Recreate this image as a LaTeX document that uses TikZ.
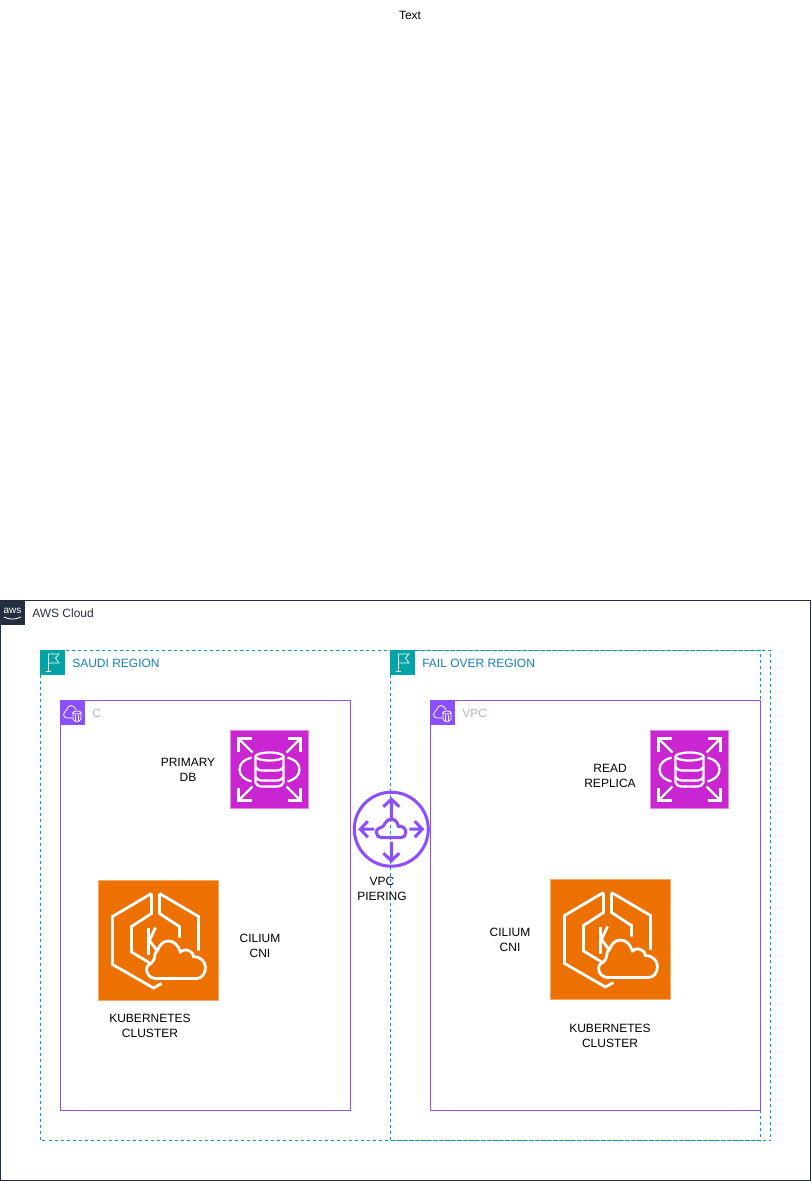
\documentclass[tikz,border=0pt]{standalone}
\usepackage{fontspec}
\setmainfont{Liberation Sans}
\definecolor{awsdark}{HTML}{232F3E}
\definecolor{regioncol}{HTML}{00A4A6}
\definecolor{regiontxt}{HTML}{147EBA}
\definecolor{vpccol}{HTML}{8C4FFF}
\definecolor{vpctxt}{HTML}{AAB7B8}
\definecolor{rdscol}{HTML}{C925D1}
\definecolor{ekscol}{HTML}{ED7100}
\tikzset{
  lbl/.style={align=center,inner sep=0pt,yshift=-0.5pt,font=\fontsize{9}{11}\selectfont},
  tagtxt/.style={anchor=west,inner sep=0pt,yshift=-0.5pt,font=\fontsize{9}{11}\selectfont},
  regionbox/.style={draw=regioncol,line width=0.75pt,dash pattern=on 2.25pt off 2.25pt},
  vpcbox/.style={draw=vpccol,line width=0.75pt},
  regiontag/.pic={
    \fill [regioncol] (0,0) rectangle (25,-25);
    \draw [white,line width=0.6pt] (8,-4) -- (8,-21.5) (5.5,-21.5) -- (11,-21.5);
    \draw [white,line width=0.6pt] (8,-4) -- (19,-4) -- (15.5,-8) -- (19,-13) -- (8,-13);
  },
  vpctag/.pic={
    \fill [vpccol] (0,0) rectangle (25,-25);
    \draw [white,line width=0.6pt]
      (12,-18) -- (7,-18)
      to [out=180,in=-90] (3.5,-14.5)
      to [out=90,in=-120] (6.5,-10)
      to [out=60,in=170] (11,-5.5)
      to [out=-10,in=100] (16,-10)
    ;
    \draw [white,line width=0.6pt] (17,-12.5) ellipse [x radius=4, y radius=1.5];
    \draw [white,line width=0.6pt] (13,-12.5) -- (13,-19) to [out=-60,in=180] (17,-21.5) to [out=0,in=-120] (21,-19) -- (21,-12.5);
    \draw [white,line width=0.5pt] (15.5,-14.5) -- (15.5,-20.5) (18.5,-14.5) -- (18.5,-20.5);
  },
  rdsicon/.pic={
    \draw [fill=rdscol,draw=rdscol!55!white,line width=0.75pt] (-39,-39) rectangle (39,39);
    \begin{scope}[white,line width=1.7pt]
      \draw (0,13) ellipse [x radius=14, y radius=4];
      \draw (-14,13) -- (-14,-13) to [out=-70,in=180] (0,-17) to [out=0,in=-110] (14,-13) -- (14,13);
      \draw (-14,3) to [out=-70,in=180] (0,-1) to [out=0,in=-110] (14,3);
      \draw (-14,-7) to [out=-70,in=180] (0,-11) to [out=0,in=-110] (14,-7);
      \draw (-18,12) to [out=195,in=90] (-30,0) to [out=-90,in=165] (-18,-12);
      \draw (18,12) to [out=-15,in=90] (30,0) to [out=-90,in=15] (18,-12);
      \foreach \sx/\sy in {1/1,-1/1,1/-1,-1/-1} {
        \draw (\sx*17,\sy*17) -- (\sx*31,\sy*31);
        \draw (\sx*18,\sy*31) -- (\sx*31,\sy*31) -- (\sx*31,\sy*18);
      }
    \end{scope}
  },
  eksicon/.pic={
    \draw [fill=ekscol,draw=ekscol!60!white,line width=0.75pt] (-60,-60) rectangle (60,60);
    \begin{scope}[white,line width=2.1pt,line join=miter]
      % left half of the hexagon
      \draw (-7,47) -- (-46,24) -- (-46,-24) -- (-5,-47.5) -- (3,-43);
      \draw (-7,47) -- (-7,27) -- (-27,14) -- (-27,-11.5) -- (-8,-23);
      % right half
      \draw (1,47) -- (40,24) -- (40,-10);
      \draw (1,47) -- (1,27) -- (21,14) -- (21,3);
      % the K
      \draw (-10,13) -- (-10,-14);
      \draw (-3,13) -- (-9,0) -- (0,-12);
      % cloud
      \draw [fill=ekscol]
        (-3,-38)
        to [out=180,in=-90] (-12,-28.5)
        to [out=90,in=-120] (-5,-20)
        to [out=60,in=-150] (-1,-10)
        to [out=70,in=180] (10,-0.5)
        to [out=0,in=110] (22,-11.5)
        to [out=40,in=150] (31,-10.5)
        to [out=-30,in=90] (35,-16)
        to [out=0,in=90] (47,-27)
        to [out=-90,in=0] (38,-38)
        -- cycle;
    \end{scope}
  },
  peericon/.pic={
    \begin{scope}[vpccol,line width=2.3pt]
      \draw (0,0) circle [radius=37];
      \draw (0,10.5) -- (0,30) (-8,22.5) -- (0,30) -- (8,22.5);
      \draw (0,-12.5) -- (0,-31.5) (-8,-24) -- (0,-31.5) -- (8,-24);
      \draw (-17,0) -- (-31,0) (-23.5,8) -- (-31,0) -- (-23.5,-8);
      \draw (18,0) -- (31,0) (23.5,8) -- (31,0) -- (23.5,-8);
      \draw
        (-10,-8.5)
        to [out=180,in=-90] (-15,-3)
        to [out=90,in=-150] (-8,3)
        to [out=60,in=180] (0,10)
        to [out=0,in=100] (7,3)
        to [out=10,in=90] (14.5,-3)
        to [out=-90,in=0] (10,-8.5)
        -- cycle;
    \end{scope}
  },
}

\begin{document}
\begin{tikzpicture}[x=0.75pt,y=0.75pt]
  \useasboundingbox (0,0) rectangle (811,-1181);
  \node [lbl] (toptext) at (410,-15) {Text};

  % cloud frame
  \draw [awsdark,line width=0.75pt] (0.5,-600.5) rectangle (810.5,-1180.5);
  \fill [awsdark] (0,-601) rectangle (25,-625);
  \node [inner sep=0pt,white,font=\fontsize{7.5}{8}\selectfont] (awslogo) at (12.5,-610.5) {aws};
  \draw [white,line width=0.6pt] (4,-617) to [out=-25,in=205] (21,-617);
  \node [tagtxt,text=awsdark] (awstitle) at (32,-613) {AWS Cloud};

  % regions
  \draw [regionbox] (40.5,-650.5) rectangle ++(730,-490);
  \draw [regionbox] (390.5,-650.5) rectangle ++(370,-490);
  \pic at (40,-650) {regiontag};
  \pic at (390,-650) {regiontag};
  \node [tagtxt,text=regiontxt] (saudititle) at (72,-663) {SAUDI REGION};
  \node [tagtxt,text=regiontxt] (failtitle) at (422,-663) {FAIL OVER REGION};

  % vpcs
  \draw [vpcbox] (60.5,-700.5) rectangle ++(290,-410);
  \draw [vpcbox] (430.5,-700.5) rectangle ++(330,-410);
  \pic at (60,-700) {vpctag};
  \pic at (430,-700) {vpctag};
  \node [tagtxt,text=vpctxt] (vpcleft) at (92,-713) {C};
  \node [tagtxt,text=vpctxt] (vpcright) at (462,-713) {VPC};

  % services
  \pic at (269.5,-769.5) {rdsicon};
  \pic at (689.5,-769.5) {rdsicon};
  \pic at (158.5,-940.5) {eksicon};
  \pic at (610.5,-939.5) {eksicon};
  \pic at (391.3,-829.2) {peericon};

  \node [lbl] (primary) at (188,-769) {PRIMARY\\DB};
  \node [lbl] (replica) at (610,-775) {READ\\REPLICA};
  \node [lbl] (piering) at (382,-888) {VPC\\PIERING};
  \node [lbl] (cniLeft) at (260,-945) {CILIUM\\CNI};
  \node [lbl] (cniRight) at (510,-939) {CILIUM\\CNI};
  \node [lbl] (k8sLeft) at (150,-1025) {KUBERNETES\\CLUSTER};
  \node [lbl] (k8sRight) at (610,-1035) {KUBERNETES\\CLUSTER};
\end{tikzpicture}
\end{document}
